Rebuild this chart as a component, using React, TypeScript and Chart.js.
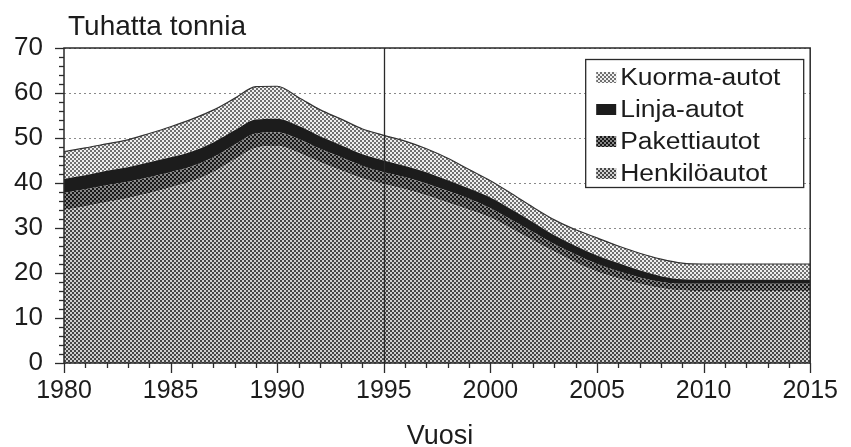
import React, { useEffect, useRef } from "react";
import { Chart, registerables } from "chart.js";

Chart.register(...registerables);

const years = [
  1980, 1981, 1982, 1983, 1984, 1985, 1986, 1987, 1988, 1989,
  1990, 1991, 1992, 1993, 1994, 1995, 1996, 1997, 1998, 1999,
  2000, 2001, 2002, 2003, 2004, 2005, 2006, 2007, 2008, 2009,
  2010, 2011, 2012, 2013, 2014, 2015,
];

const henkiloautot = [
  34.0, 34.8, 35.7, 36.6, 37.7, 39.0, 40.4, 42.4, 45.2, 47.8,
  48.2, 46.7, 44.6, 42.8, 41.0, 39.7, 38.6, 37.2, 35.6, 34.0,
  32.3, 29.8, 27.2, 24.7, 22.3, 20.3, 18.8, 17.6, 16.6, 16.1,
  16.0, 16.0, 16.0, 16.0, 16.0, 16.0,
];

const pakettiautot = [
  3.8, 3.8, 3.8, 3.7, 3.6, 3.4, 3.3, 3.3, 3.3, 3.2,
  3.1, 3.1, 3.0, 2.9, 2.8, 2.7, 2.7, 2.7, 2.6, 2.5,
  2.1, 2.0, 1.9, 1.7, 1.8, 1.7, 1.6, 1.4, 1.4, 1.5,
  1.6, 1.6, 1.6, 1.6, 1.6, 1.6,
];

const linjaautot = [
  3.1, 3.1, 3.2, 3.2, 3.3, 3.3, 3.3, 3.3, 3.2, 3.1,
  3.0, 2.9, 2.8, 2.7, 2.6, 2.6, 2.5, 2.5, 2.4, 2.3,
  2.4, 2.3, 2.2, 2.0, 1.9, 1.9, 1.8, 1.6, 1.3, 1.0,
  0.9, 0.9, 0.9, 0.9, 0.9, 0.9,
];

const kuormaautot = [
  6.1, 6.1, 6.0, 6.1, 6.4, 6.8, 7.2, 7.2, 7.1, 7.3,
  7.2, 6.3, 5.9, 5.8, 5.6, 5.6, 5.5, 5.2, 4.9, 4.2,
  3.7, 3.5, 3.3, 3.4, 3.6, 3.9, 3.8, 3.8, 3.8, 3.6,
  3.5, 3.5, 3.5, 3.5, 3.5, 3.5,
];

const seriesNames = ["Henkilöautot", "Pakettiautot", "Linja-autot", "Kuorma-autot"];
const yTickValues = [0, 10, 20, 30, 40, 50, 60, 70];
const xTickLabels = [1980, 1985, 1990, 1995, 2000, 2005, 2010, 2015];
const markerYear = 1995;
const chartTitle = "Tuhatta tonnia";
const xTitle = "Vuosi";

const FONT = "'Liberation Sans', Arial, sans-serif";
const TEXT = "#1c1c1c";

function makePattern(bg: string, fg: string, size: number, dots: number[][], dot: number) {
  const c = document.createElement("canvas");
  c.width = size;
  c.height = size;
  const g = c.getContext("2d")!;
  g.fillStyle = bg;
  g.fillRect(0, 0, size, size);
  g.fillStyle = fg;
  dots.forEach(([x, y]) => g.fillRect(x, y, dot, dot));
  const p = document.createElement("canvas").getContext("2d")!.createPattern(c, "repeat");
  return p as CanvasPattern;
}

export default function App() {
  const ref = useRef<HTMLCanvasElement | null>(null);

  useEffect(() => {
    if (!ref.current) return;
    const pHenkilo = makePattern("#d0d0d0", "#464646", 4, [[0, 0], [2, 2]], 2);
    const pPaketti = makePattern("#868686", "#181818", 4, [[0, 0], [2, 2]], 2);
    const pLinja = "#1c1c1c";
    const pKuorma = makePattern("#efefef", "#707070", 4, [[0, 0], [2, 2]], 2);
    const fills = [pHenkilo, pPaketti, pLinja, pKuorma];
    const values = [henkiloautot, pakettiautot, linjaautot, kuormaautot];

    const decor = {
      id: "decor",
      afterDatasetsDraw(chart: any) {
        const { ctx, chartArea } = chart;
        const xs = chart.scales.x;
        const ys = chart.scales.y;
        const { left, right, top, bottom } = chartArea;
        ctx.save();
        ctx.strokeStyle = "#2a2a2a";
        ctx.lineWidth = 1.3;
        const mx = Math.round(xs.getPixelForValue(markerYear)) + 0.5;
        ctx.beginPath();
        ctx.moveTo(mx, top);
        ctx.lineTo(mx, bottom);
        ctx.stroke();
        ctx.lineWidth = 1.5;
        ctx.strokeRect(left, top, right - left, bottom - top);
        ctx.lineWidth = 1.3;
        for (let v = 0; v <= 70; v += 2) {
          const y = Math.round(ys.getPixelForValue(v)) + 0.5;
          const len = v % 10 === 0 ? 9 : 5;
          ctx.beginPath();
          ctx.moveTo(left - len, y);
          ctx.lineTo(left, y);
          ctx.stroke();
        }
        for (let yr = 1980; yr <= 2015; yr++) {
          const x = Math.round(xs.getPixelForValue(yr)) + 0.5;
          const len = yr % 5 === 0 ? 10 : 5;
          ctx.beginPath();
          ctx.moveTo(x, bottom);
          ctx.lineTo(x, bottom + len);
          ctx.stroke();
        }
        ctx.restore();
      },
      afterDraw(chart: any) {
        const { ctx, chartArea } = chart;
        ctx.save();
        ctx.fillStyle = TEXT;
        ctx.font = `28px ${FONT}`;
        ctx.textBaseline = "alphabetic";
        ctx.textAlign = "left";
        ctx.fillText(chartTitle, chartArea.left + 4, 35);
        ctx.font = `27px ${FONT}`;
        ctx.textAlign = "center";
        ctx.fillText(xTitle, 440, 444);
        // legend
        const lx = chartArea.right - 225;
        const ly = chartArea.top + 11;
        const lw = 218;
        const lh = 128;
        ctx.fillStyle = "#ffffff";
        ctx.fillRect(lx, ly, lw, lh);
        ctx.strokeStyle = "#2a2a2a";
        ctx.lineWidth = 1.3;
        ctx.strokeRect(lx + 0.5, ly + 0.5, lw, lh);
        ctx.textAlign = "left";
        ctx.textBaseline = "alphabetic";
        const order = [3, 2, 1, 0];
        order.forEach((di, i) => {
          const cy = ly + 18 + i * 32;
          ctx.fillStyle = fills[di] as any;
          ctx.fillRect(lx + 11, cy - 5, 20, 11);
          ctx.fillStyle = TEXT;
          ctx.save();
          ctx.translate(lx + 35, cy + 8);
          ctx.scale(1.15, 1);
          ctx.font = `23px ${FONT}`;
          ctx.fillText(seriesNames[di], 0, 0);
          ctx.restore();
        });
        ctx.restore();
      },
    };

    const chart = new Chart(ref.current, {
      type: "line",
      data: {
        datasets: values.map((arr, i) => ({
          label: seriesNames[i],
          data: years.map((yr, j) => ({ x: yr, y: arr[j] })),
          backgroundColor: fills[i] as any,
          borderColor: i === 3 ? "#333333" : "rgba(0,0,0,0)",
          borderWidth: i === 3 ? 1.2 : 0,
          pointRadius: 0,
          fill: i === 0 ? "origin" : "-1",
          cubicInterpolationMode: "monotone" as const,
        })),
      },
      options: {
        animation: false,
        responsive: false,
        maintainAspectRatio: false,
        devicePixelRatio: 1,
        layout: { padding: { top: 48, right: 32, left: 0, bottom: 0 } },
        plugins: {
          legend: { display: false },
          tooltip: { enabled: false },
          title: { display: false },
        },
        scales: {
          x: {
            type: "linear",
            min: 1980,
            max: 2015,
            grid: { display: false, drawTicks: false },
            border: { display: false },
            afterFit: (s: any) => { s.height = 84; },
            afterBuildTicks: (s: any) => { s.ticks = xTickLabels.map((v) => ({ value: v })); },
            ticks: {
              padding: 13,
              color: TEXT,
              font: { family: FONT, size: 25 },
              callback: (v: any) => String(v),
              maxRotation: 0,
              autoSkip: false,
            },
          },
          y: {
            stacked: true,
            min: 0,
            max: 70,
            grid: { color: "#8a8a8a", lineWidth: 1, drawTicks: false },
            border: { display: false, dash: [2, 3] },
            afterFit: (s: any) => { s.width = 64; },
            afterBuildTicks: (s: any) => { s.ticks = yTickValues.map((v) => ({ value: v })); },
            ticks: {
              padding: 21,
              color: TEXT,
              font: { family: FONT, size: 26 },
            },
          },
        },
      },
      plugins: [decor],
    } as any);
    return () => chart.destroy();
  }, []);

  return (
    <div style={{ position: "absolute", left: 0, top: 0, width: 851, height: 447, background: "#fff" }}>
      <canvas ref={ref} width={851} height={447} style={{ width: 851, height: 447, display: "block" }} />
    </div>
  );
}
